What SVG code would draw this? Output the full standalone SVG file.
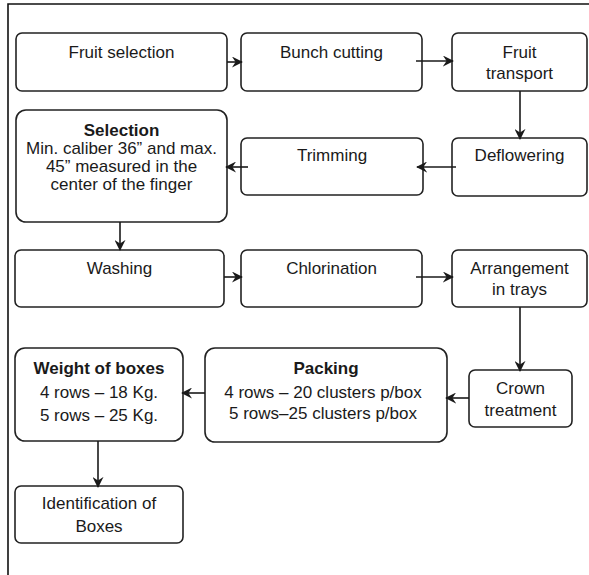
<svg xmlns="http://www.w3.org/2000/svg" width="589" height="575" viewBox="0 0 589 575">
<defs>
<style>
.box{fill:#fff;stroke:#222;stroke-width:1.6}
.t{font-family:"Liberation Sans",Arial,sans-serif;font-size:17px;fill:#1a1a1a;text-anchor:middle}
.b{font-weight:bold}
.c{stroke:#1a1a1a;stroke-width:1.6;fill:none;marker-end:url(#ah)}
</style>
<marker id="ah" viewBox="0 0 12 12" refX="11" refY="6" markerWidth="11" markerHeight="11" markerUnits="userSpaceOnUse" orient="auto">
<path d="M0,0 L12,6 L0,12 L4,6 z" fill="#1a1a1a"/>
</marker>
</defs>
<rect width="589" height="575" fill="#fff"/>
<path d="M8,575 V4 H589" fill="none" stroke="#111" stroke-width="1.6"/>
<g id="fruit-selection">
<rect class="box" x="16" y="33" width="211" height="58" rx="6"/>
<text class="t" x="121.5" y="58">Fruit selection</text>
</g>
<g id="bunch-cutting">
<rect class="box" x="241" y="33" width="181" height="58" rx="6"/>
<text class="t" x="331.5" y="58">Bunch cutting</text>
</g>
<g id="fruit-transport">
<rect class="box" x="452" y="33" width="135" height="58" rx="6"/>
<text class="t" x="519.5" y="58">Fruit</text>
<text class="t" x="519.5" y="79">transport</text>
</g>
<g id="selection">
<rect class="box" x="16" y="110" width="211" height="112" rx="10"/>
<text class="t b" x="121.5" y="136">Selection</text>
<text class="t" x="121.5" y="154">Min. caliber 36” and max.</text>
<text class="t" x="121.5" y="172">45” measured in the</text>
<text class="t" x="121.5" y="190">center of the finger</text>
</g>
<g id="trimming">
<rect class="box" x="241" y="138" width="182" height="57" rx="6"/>
<text class="t" x="332" y="161">Trimming</text>
</g>
<g id="deflowering">
<rect class="box" x="452" y="138" width="135" height="58" rx="6"/>
<text class="t" x="519.5" y="161">Deflowering</text>
</g>
<g id="washing">
<rect class="box" x="15" y="250" width="209" height="57" rx="6"/>
<text class="t" x="119.5" y="274">Washing</text>
</g>
<g id="chlorination">
<rect class="box" x="241" y="250" width="181" height="57" rx="6"/>
<text class="t" x="331.5" y="274">Chlorination</text>
</g>
<g id="arrangement">
<rect class="box" x="452" y="250" width="135" height="57" rx="6"/>
<text class="t" x="519.5" y="274">Arrangement</text>
<text class="t" x="519.5" y="295">in trays</text>
</g>
<g id="crown-treatment">
<rect class="box" x="469" y="370" width="103" height="57" rx="6"/>
<text class="t" x="520.5" y="394">Crown</text>
<text class="t" x="520.5" y="416">treatment</text>
</g>
<g id="packing">
<rect class="box" x="205" y="348" width="242" height="94" rx="10"/>
<text class="t b" x="326" y="374">Packing</text>
<text class="t" x="323" y="398">4 rows – 20 clusters p/box</text>
<text class="t" x="323" y="419">5 rows–25 clusters p/box</text>
</g>
<g id="weight-of-boxes">
<rect class="box" x="15" y="348" width="168" height="93" rx="10"/>
<text class="t b" x="99" y="374">Weight of boxes</text>
<text class="t" x="99" y="398">4 rows – 18 Kg.</text>
<text class="t" x="99" y="421">5 rows – 25 Kg.</text>
</g>
<g id="identification">
<rect class="box" x="15" y="486" width="168" height="57" rx="6"/>
<text class="t" x="99" y="509">Identification of</text>
<text class="t" x="99" y="532">Boxes</text>
</g>
<g id="connectors">
<line class="c" x1="227" y1="62" x2="242" y2="62"/>
<line class="c" x1="416" y1="61" x2="453" y2="61"/>
<line class="c" x1="520" y1="91" x2="520" y2="139"/>
<line class="c" x1="456" y1="167" x2="417" y2="167"/>
<line class="c" x1="248" y1="167" x2="226" y2="167"/>
<line class="c" x1="120" y1="222" x2="120" y2="250"/>
<line class="c" x1="224" y1="277" x2="242" y2="277"/>
<line class="c" x1="416" y1="277" x2="453" y2="277"/>
<line class="c" x1="520" y1="307" x2="520" y2="371"/>
<line class="c" x1="469" y1="398" x2="446" y2="398"/>
<line class="c" x1="205" y1="393" x2="182" y2="393"/>
<line class="c" x1="98" y1="441" x2="98" y2="487"/>
</g>
</svg>
